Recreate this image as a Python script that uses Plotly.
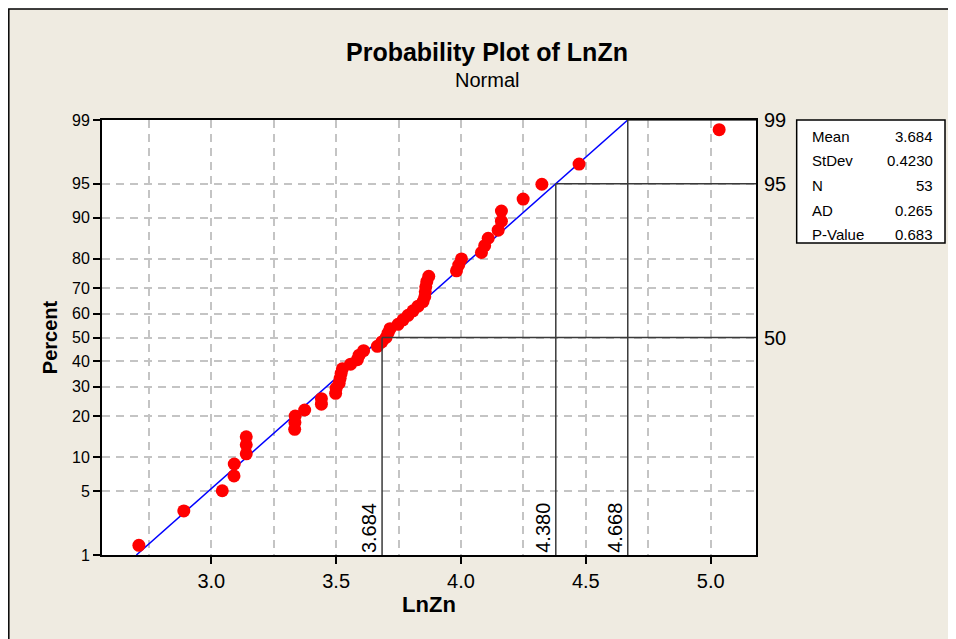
import plotly.graph_objects as go
from statistics import NormalDist

# ---- data ----
lnzn = [2.710, 2.890, 3.044, 3.091, 3.092, 3.140, 3.140, 3.140, 3.334, 3.335,
        3.336, 3.374, 3.441, 3.441, 3.498, 3.500, 3.512, 3.516, 3.520, 3.525,
        3.558, 3.585, 3.592, 3.610, 3.665, 3.683, 3.700, 3.708, 3.716, 3.748,
        3.768, 3.788, 3.808, 3.828, 3.848, 3.855, 3.857, 3.859, 3.863, 3.871,
        3.982, 3.991, 4.002, 4.082, 4.095, 4.109, 4.149, 4.162, 4.162, 4.249,
        4.324, 4.473, 5.034]
percent = [1.31, 3.18, 5.06, 6.93, 8.80, 10.67, 12.55, 14.42, 16.29, 18.16,
           20.04, 21.91, 23.78, 25.66, 27.53, 29.40, 31.27, 33.15, 35.02, 36.89,
           38.76, 40.64, 42.51, 44.38, 46.25, 48.13, 50.00, 51.87, 53.75, 55.62,
           57.49, 59.36, 61.24, 63.11, 64.98, 66.85, 68.73, 70.60, 72.47, 74.34,
           76.22, 78.09, 79.96, 81.84, 83.71, 85.58, 87.45, 89.33, 91.20, 93.07,
           94.94, 96.82, 98.69]

mean_val = 3.684
stdev_val = 0.4230
n_val = 53
ad_val = 0.265
p_val = 0.683

tick_pcts = [1, 5, 10, 20, 30, 40, 50, 60, 70, 80, 90, 95, 99]
x_ticks = [3.0, 3.5, 4.0, 4.5, 5.0]
x_minor = [2.75, 3.25, 3.75, 4.25, 4.75]
ref_pcts = [50, 95, 99]
fit_pcts = [1, 99]

nd = NormalDist()


def z(p):
    return nd.inv_cdf(p / 100.0)


FONT = "Liberation Sans"
BEIGE = "#EFEBE1"
GRID = "#C4C4C4"
REF = "#3A3A3A"

x_lo, x_hi = 2.5623, 5.1816
y_lo, y_hi = z(1), z(99)

fig = go.Figure()

# fitted normal line
fig.add_trace(go.Scatter(
    x=[mean_val + stdev_val * z(p) for p in fit_pcts],
    y=[z(p) for p in fit_pcts],
    mode="lines", line=dict(color="#0000FF", width=1.5),
    hoverinfo="skip", showlegend=False))

# data points
fig.add_trace(go.Scatter(
    x=lnzn, y=[z(p) for p in percent], mode="markers",
    marker=dict(color="#FF0000", size=13, line=dict(width=0)),
    showlegend=False))

shapes = [
    # beige framed panel
    dict(type="rect", xref="paper", yref="paper", x0=-0.1425, x1=1.35,
         y0=-0.25, y1=1.2553, fillcolor=BEIGE,
         line=dict(color="black", width=1.5), layer="below"),
    # white plot area
    dict(type="rect", xref="paper", yref="paper", x0=0, x1=1, y0=0, y1=1,
         fillcolor="white", line=dict(width=0), layer="below"),
    # stats box
    dict(type="rect", xref="paper", yref="paper", x0=1.0622, x1=1.289,
         y0=0.7172, y1=1.0, fillcolor="white",
         line=dict(color="black", width=1.5)),
]

annotations = []
for p in ref_pcts:
    xv = mean_val + stdev_val * z(p)
    shapes.append(dict(type="line", xref="x", yref="y", x0=xv, x1=xv,
                       y0=y_lo, y1=z(p), line=dict(color=REF, width=1.5)))
    shapes.append(dict(type="line", xref="x", yref="y", x0=xv, x1=x_hi,
                       y0=z(p), y1=z(p), line=dict(color=REF, width=1.5)))
    annotations.append(dict(
        x=xv, y=y_lo, xref="x", yref="y", text=f"{xv:.3f}", textangle=-90,
        xanchor="right", yanchor="bottom", showarrow=False, xshift=0,
        font=dict(family=FONT, size=20, color="black")))
    annotations.append(dict(
        x=1, y=z(p), xref="paper", yref="y", text=str(p), xanchor="left",
        yanchor="middle", showarrow=False, xshift=6,
        font=dict(family=FONT, size=20, color="black")))

# title & subtitle
annotations.append(dict(x=0.5887, y=1.1563, xref="paper", yref="paper",
                        text="<b>Probability Plot of LnZn</b>", showarrow=False,
                        xanchor="center", yanchor="middle",
                        font=dict(family=FONT, size=25, color="black")))
annotations.append(dict(x=0.5887, y=1.092, xref="paper", yref="paper",
                        text="Normal", showarrow=False,
                        xanchor="center", yanchor="middle",
                        font=dict(family=FONT, size=20, color="black")))

# stats box text
stat_labels = ["Mean", "StDev", "N", "AD", "P-Value"]
stat_values = [f"{mean_val:.3f}", f"{stdev_val:.4f}", str(n_val),
               f"{ad_val:.3f}", f"{p_val:.3f}"]
row_y = [0.9632, 0.9064, 0.8483, 0.7931, 0.7372]
for lab, val, ry in zip(stat_labels, stat_values, row_y):
    annotations.append(dict(x=1.0826, y=ry, xref="paper", yref="paper",
                            text=lab, showarrow=False, xanchor="left",
                            yanchor="middle",
                            font=dict(family=FONT, size=15, color="black")))
    annotations.append(dict(x=1.2737, y=ry, xref="paper", yref="paper",
                            text=val, showarrow=False, xanchor="right",
                            yanchor="middle",
                            font=dict(family=FONT, size=15, color="black")))

fig.update_layout(
    width=948, height=631,
    margin=dict(l=94, r=200, t=112, b=84),
    paper_bgcolor="white", plot_bgcolor="white",
    shapes=shapes, annotations=annotations, showlegend=False,
    font=dict(family=FONT, color="black"),
)

fig.update_xaxes(
    range=[x_lo, x_hi], tickmode="array", tickvals=x_ticks,
    ticktext=[f"{v:.1f}" for v in x_ticks],
    ticks="outside", ticklen=7, tickwidth=1.5, tickcolor="black",
    tickfont=dict(family=FONT, size=20, color="black"),
    showgrid=True, gridcolor=GRID, gridwidth=1.5, griddash="8px,6px",
    minor=dict(tickvals=x_minor, showgrid=True, gridcolor=GRID, gridwidth=1.5,
               griddash="8px,6px", ticks=""),
    showline=True, linecolor="black", linewidth=2, mirror=True,
    zeroline=False,
    title=dict(text="<b>LnZn</b>", standoff=6,
               font=dict(family=FONT, size=22, color="black")),
)

fig.update_yaxes(
    range=[y_lo, y_hi], tickmode="array", tickvals=[z(p) for p in tick_pcts],
    ticktext=[str(p) for p in tick_pcts],
    ticks="outside", ticklen=7, tickwidth=1.5, tickcolor="black",
    tickfont=dict(family=FONT, size=16, color="black"),
    showgrid=True, gridcolor=GRID, gridwidth=1.5, griddash="8px,6px",
    showline=True, linecolor="black", linewidth=2, mirror=True,
    zeroline=False,
    title=dict(text="<b>Percent</b>", standoff=9,
               font=dict(family=FONT, size=20, color="black")),
)

fig.write_html("out.html")
